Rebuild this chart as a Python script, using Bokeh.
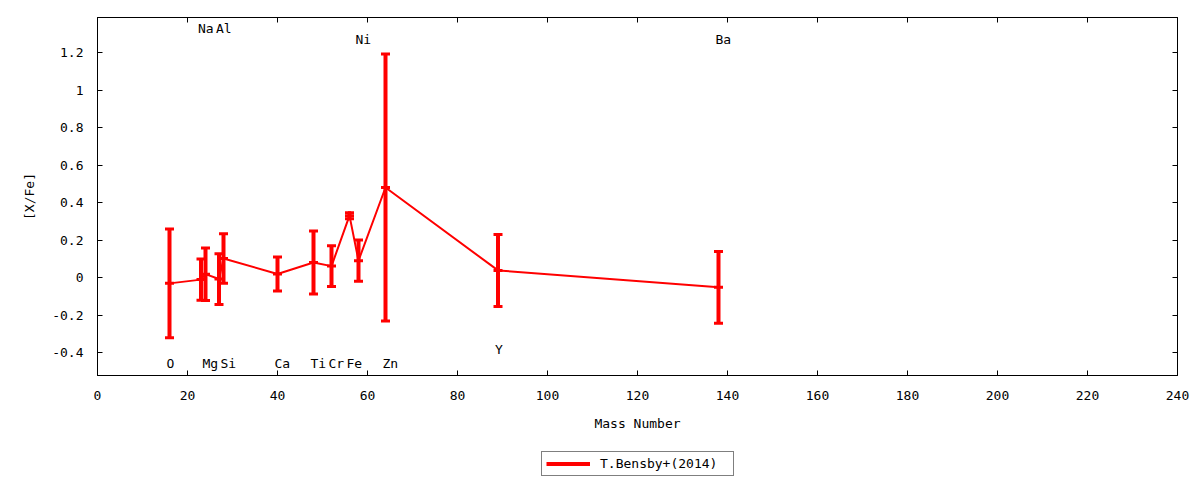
from bokeh.plotting import figure
from bokeh.layouts import column
from bokeh.models import (Range1d, FixedTicker, LinearAxis, Legend, LegendItem,
                          ColumnDataSource, CustomJSTickFormatter)
from bokeh.core.properties import value
from bokeh.embed import file_html
from bokeh.resources import INLINE

# ---- data ----
elements = ["O", "Na", "Mg", "Al", "Si", "Ca", "Ti", "Cr", "Fe", "Ni", "Zn", "Y", "Ba"]
mass_number = [16, 23, 24, 27, 28, 40, 48, 52, 56, 58, 64, 89, 138]
x_fe = [-0.03, -0.01, 0.019, -0.007, 0.103, 0.02, 0.081, 0.062, 0.331, 0.091, 0.481, 0.039, -0.051]
x_fe_err = [0.29, 0.11, 0.14, 0.135, 0.132, 0.09, 0.168, 0.108, 0.016, 0.11, 0.711, 0.192, 0.191]
label_y = [-0.457, 1.33, -0.457, 1.33, -0.457, -0.457, -0.457, -0.457, -0.457, 1.272, -0.457, -0.382, 1.272]

x_ticks = [0, 20, 40, 60, 80, 100, 120, 140, 160, 180, 200, 220, 240]
y_ticks = [-0.4, -0.2, 0, 0.2, 0.4, 0.6, 0.8, 1, 1.2]
y_tick_labels = ["-0.4", "-0.2", "0", "0.2", "0.4", "0.6", "0.8", "1", "1.2"]
series_name = "T.Bensby+(2014)"
x_title = "Mass Number"
y_title = "[X/Fe]"

FONT = "DejaVu Sans Mono"
FS = "13px"
RED = "#ff0000"

lower = [v - e for v, e in zip(x_fe, x_fe_err)]
upper = [v + e for v, e in zip(x_fe, x_fe_err)]

src = ColumnDataSource(dict(x=mass_number, y=x_fe, lo=lower, hi=upper,
                            name=elements, ly=label_y))

p = figure(width=1200, height=445, output_backend="svg", toolbar_location=None,
           x_range=Range1d(0, 240), y_range=Range1d(-0.521, 1.387),
           min_border_left=97, min_border_right=23, min_border_top=17,
           min_border_bottom=70, x_axis_label=x_title, y_axis_label=y_title)
p.grid.visible = False
p.outline_line_color = "black"
p.outline_line_width = 1
p.background_fill_color = "white"
p.border_fill_color = "white"

p.xaxis.ticker = FixedTicker(ticks=x_ticks)
p.yaxis.ticker = FixedTicker(ticks=y_ticks)
p.yaxis.major_label_overrides = {t: s for t, s in zip(y_ticks, y_tick_labels)}

for ax in (p.xaxis[0], p.yaxis[0]):
    ax.major_tick_in = 5
    ax.major_tick_out = 0
    ax.minor_tick_line_color = None
    ax.axis_line_color = "black"
    ax.major_tick_line_color = "black"
    ax.major_label_text_font = FONT
    ax.major_label_text_font_size = FS
    ax.major_label_text_color = "black"
    ax.axis_label_text_font = FONT
    ax.axis_label_text_font_size = FS
    ax.axis_label_text_font_style = "normal"
    ax.axis_label_text_color = "black"

p.xaxis.major_label_standoff = 15
p.xaxis.axis_label_standoff = 13
p.yaxis.major_label_standoff = 14
p.yaxis.axis_label_standoff = 12

# mirror ticks on the top and right edges
for side, tk in (("right", y_ticks), ("above", x_ticks)):
    ax = LinearAxis(ticker=FixedTicker(ticks=tk),
                    formatter=CustomJSTickFormatter(code="return ''"),
                    major_tick_in=5, major_tick_out=0,
                    minor_tick_line_color=None, axis_line_color="black",
                    major_label_text_font_size="1px", major_label_standoff=0)
    p.add_layout(ax, side)


def draw_series(fig):
    fig.line("x", "y", source=src, line_color=RED, line_width=2)
    bars = fig.segment(x0="x", y0="lo", x1="x", y1="hi", source=src,
                       line_color=RED, line_width=4)
    fig.scatter("x", "lo", source=src, marker="dash", size=9, line_color=RED, line_width=3)
    fig.scatter("x", "hi", source=src, marker="dash", size=9, line_color=RED, line_width=3)
    pts = fig.scatter("x", "y", source=src, marker="cross", size=9,
                      line_color=RED, line_width=3)
    return bars, pts


draw_series(p)

# element labels
p.text(x="x", y="ly", text="name", source=src, text_font=value(FONT),
       text_font_size=FS, text_color="black", text_align="left",
       text_baseline="middle", x_offset=-3)

# legend strip below the plot (its frame shows no data, only the key)
leg = figure(width=1200, height=35, output_backend="svg", toolbar_location=None,
             x_range=Range1d(1000, 1001), y_range=Range1d(1000, 1001),
             x_axis_type=None, y_axis_type=None,
             min_border_left=0, min_border_right=0, min_border_top=0,
             min_border_bottom=0)
leg.grid.visible = False
leg.outline_line_color = None
leg_bars, leg_pts = draw_series(leg)

legend = Legend(items=[LegendItem(label=series_name, renderers=[leg_bars, leg_pts])],
                location=(444, 4), orientation="horizontal",
                label_text_font=FONT, label_text_font_size=FS,
                label_text_color="black", glyph_width=44, glyph_height=9,
                label_height=9, label_width=129, label_standoff=10,
                padding=4, margin=0, border_line_color="black",
                border_line_width=1, background_fill_color="white",
                background_fill_alpha=1)
leg.add_layout(legend, "center")

layout = column(p, leg, spacing=0)
open("out.html", "w").write(file_html(layout, INLINE))
